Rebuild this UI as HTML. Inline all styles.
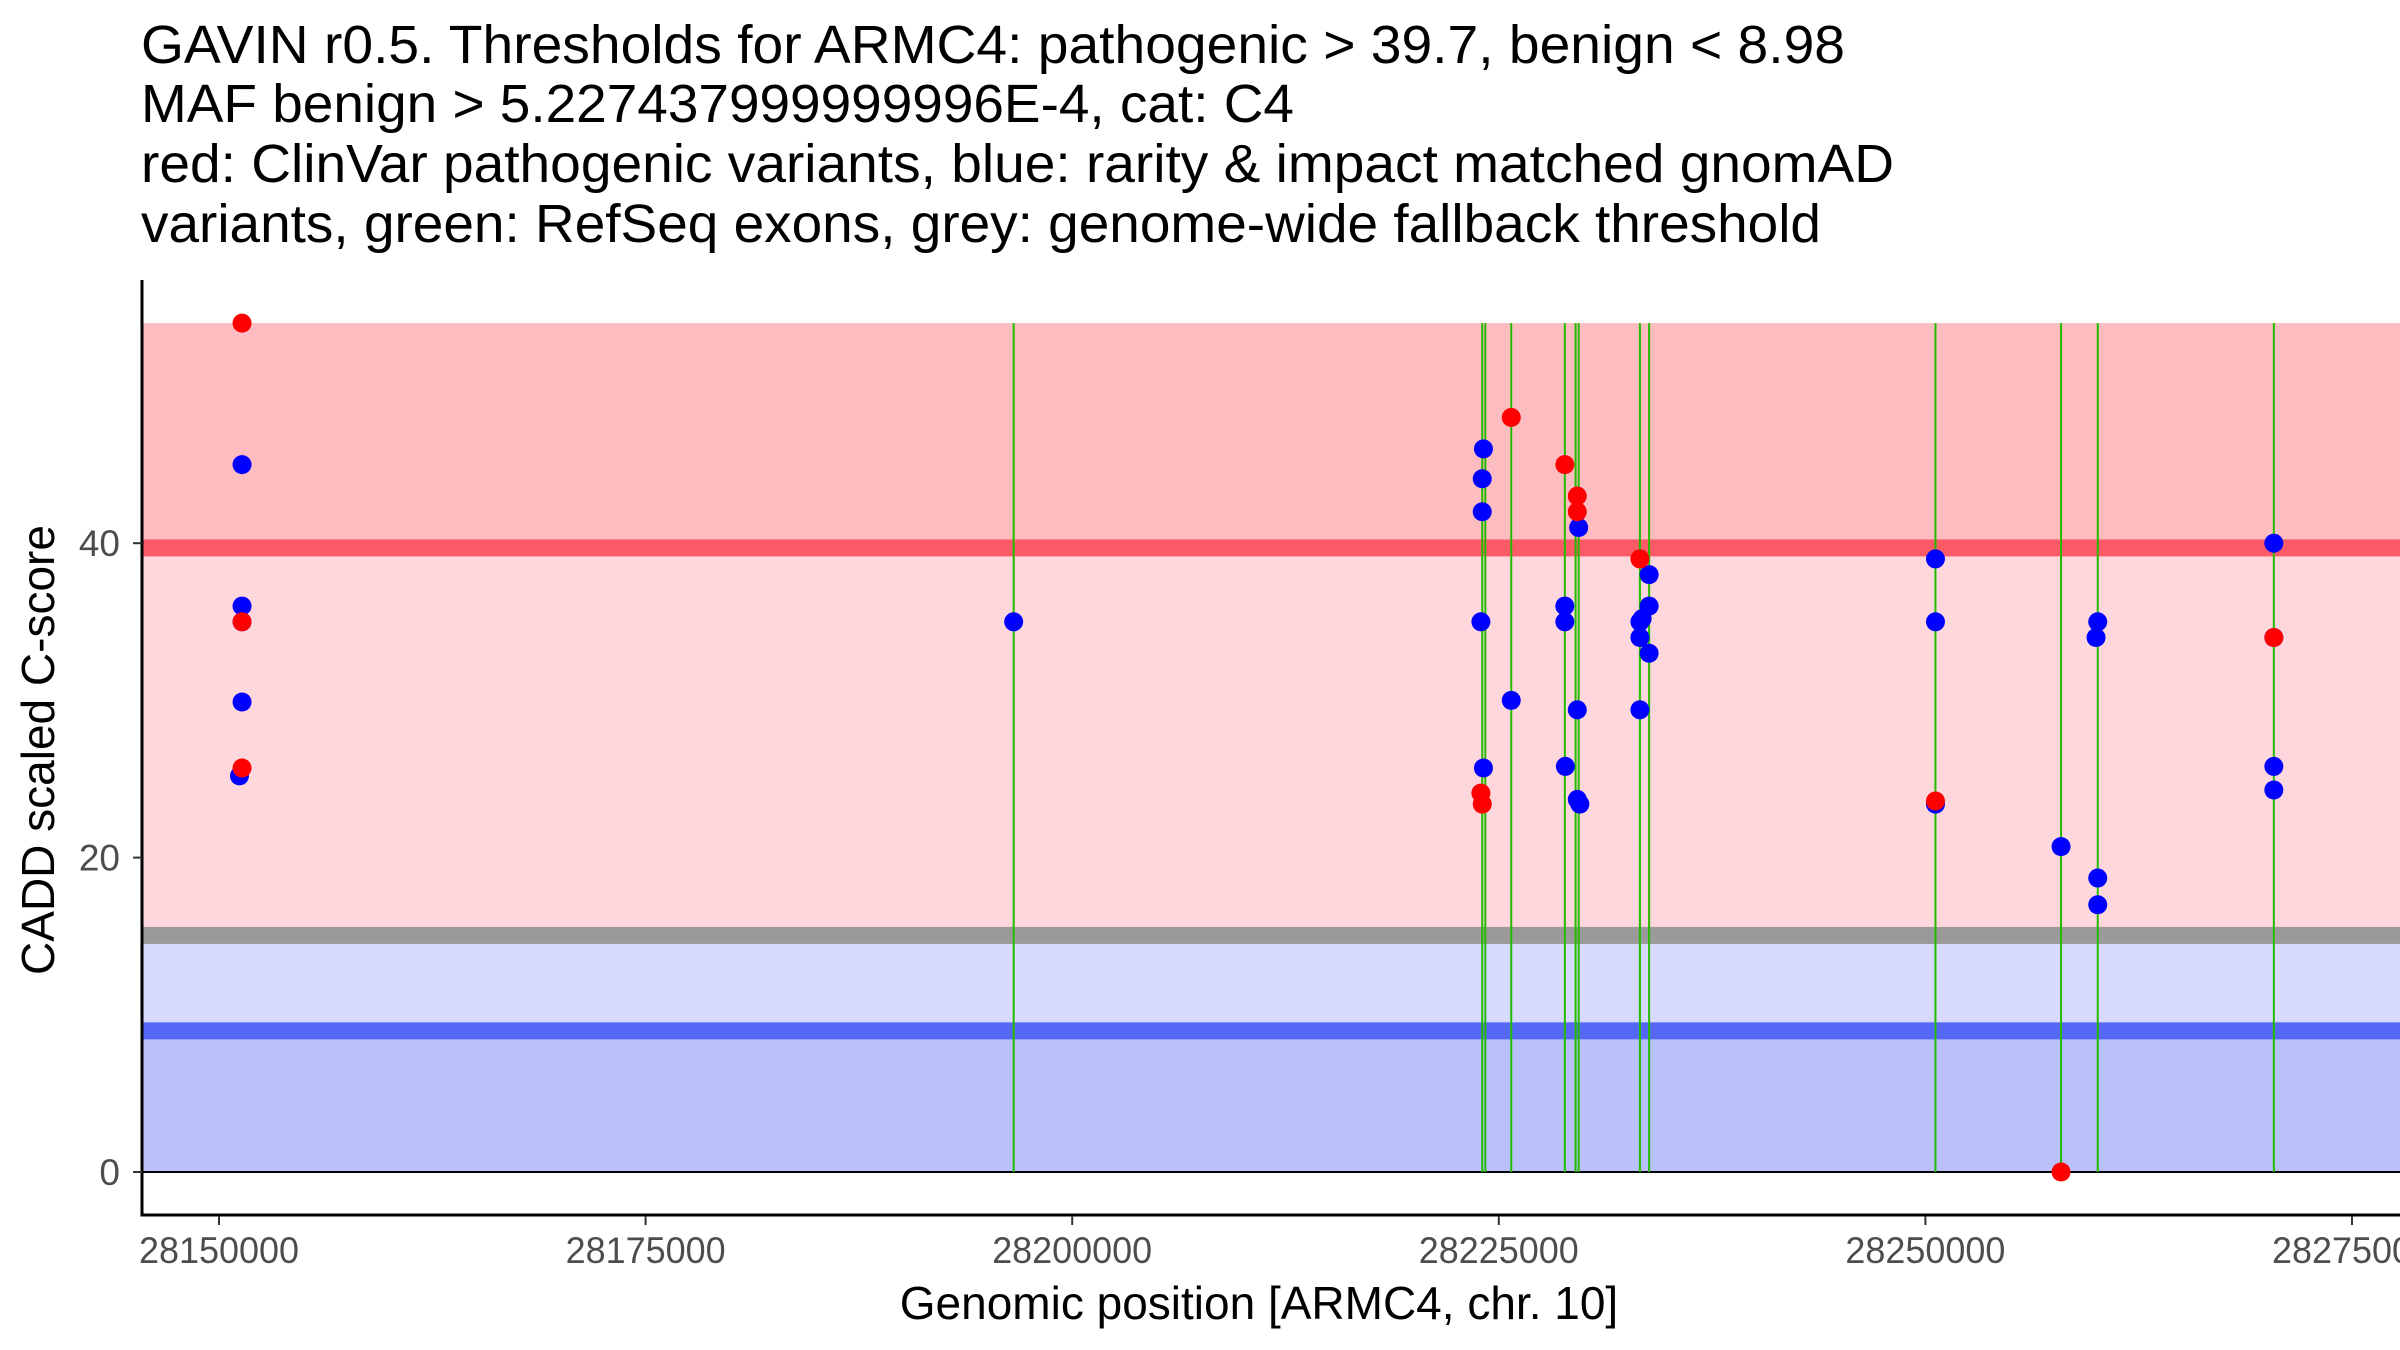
<!DOCTYPE html>
<html><head><meta charset="utf-8"><style>
html,body{margin:0;padding:0;background:#fff;}
svg{display:block;font-family:"Liberation Sans",Arial,sans-serif;}
</style></head><body>
<svg id="chart" width="2400" height="1350" viewBox="0 0 2400 1350" xmlns="http://www.w3.org/2000/svg">
<g font-size="54" fill="#000">
<text x="141" y="63" textLength="1704" lengthAdjust="spacingAndGlyphs">GAVIN r0.5. Thresholds for ARMC4: pathogenic &gt; 39.7, benign &lt; 8.98</text>
<text x="141" y="122" textLength="1153" lengthAdjust="spacingAndGlyphs">MAF benign &gt; 5.227437999999996E-4, cat: C4</text>
<text x="141" y="182" textLength="1753" lengthAdjust="spacingAndGlyphs">red: ClinVar pathogenic variants, blue: rarity &amp; impact matched gnomAD</text>
<text x="141" y="242" textLength="1680" lengthAdjust="spacingAndGlyphs">variants, green: RefSeq exons, grey: genome-wide fallback threshold</text>
</g>
<g id="bands"></g>
<g id="exons"></g>
<g id="points"></g>
<g id="axes"></g>
<text transform="translate(54,750) rotate(-90)" text-anchor="middle" font-size="46" fill="#000">CADD scaled C-score</text>
<text x="1259" y="1319" text-anchor="middle" font-size="46" fill="#000">Genomic position [ARMC4, chr. 10]</text>
</svg>
<script>
const xTicks = [28150000, 28175000, 28200000, 28225000, 28250000, 28275000];
const yTicks = [0, 20, 40];
const pathogenicThreshold = 39.7;
const benignThreshold = 8.98;
const fallbackThreshold = 15.05;
const bandTop = 54;
const exonPositions = [28196570, 28224030, 28224210, 28225730, 28228870, 28229500, 28229680, 28233270, 28233810, 28250590, 28257950, 28260100, 28270420];
const blueX = [28151350,28151350,28151350,28151350,28151200,28196570,28224030,28224100,28224030,28223950,28224100,28225730,28228870,28228870,28228900,28229680,28229600,28229600,28229750,28233270,28233270,28233270,28233400,28233810,28233810,28233810,28250590,28250590,28250590,28257950,28260100,28260000,28260100,28260100,28270420,28270420,28270420,28270420];
const blueY = [45,36,35,29.9,25.2,35,44.1,46,42,35,25.7,30,36,35,25.8,41,29.4,23.7,23.4,35,34,29.4,35.2,38,36,33,39,35,23.4,20.7,35,34,18.7,17,40,34,25.8,24.3];
const redX = [28151350,28151350,28151350,28223950,28224030,28225730,28228870,28229600,28229600,28233270,28250590,28257950,28270420];
const redY = [54,35,25.7,24.1,23.4,48,45,43,42,39,23.6,0,34];

const NS='http://www.w3.org/2000/svg';
const X0=219, PX=426.6/25000, Y0=1172, PY=15.72;
function xs(v){return X0+(v-28150000)*PX;}
function ys(v){return Y0-v*PY;}
function mk(tag,attrs,parent){const e=document.createElementNS(NS,tag);for(const k in attrs)e.setAttribute(k,attrs[k]);parent.appendChild(e);return e;}
const L=142,R=2400;
const bands=document.getElementById('bands');
let r;
r=mk('rect',{x:L,y:ys(bandTop),width:R-L,height:ys(pathogenicThreshold)-ys(bandTop),fill:'#fdbcc0'},bands);


r=mk('rect',{x:L,y:ys(pathogenicThreshold),width:R-L,height:ys(fallbackThreshold)-ys(pathogenicThreshold),fill:'#fdd7db'},bands);


r=mk('rect',{x:L,y:ys(fallbackThreshold),width:R-L,height:ys(benignThreshold)-ys(fallbackThreshold),fill:'#d8dafd'},bands);


r=mk('rect',{x:L,y:ys(benignThreshold),width:R-L,height:ys(0)-ys(benignThreshold),fill:'#bac0fa'},bands);


const th=[[pathogenicThreshold,'#fd5a68','pathogenic-threshold-line'],[fallbackThreshold,'#9a9a9a','fallback-threshold-line'],[benignThreshold,'#5468f5','benign-threshold-line']];
th.forEach(t=>{const l=mk('rect',{x:L,y:ys(t[0])-8.5,width:R-L,height:17,fill:t[1]},bands);

});
const z=mk('line',{x1:L,x2:R,y1:ys(0),y2:ys(0),stroke:'#000','stroke-width':2},bands);


const ex=document.getElementById('exons');
exonPositions.forEach(p=>{const l=mk('line',{x1:xs(p),x2:xs(p),y1:ys(bandTop),y2:ys(0),stroke:'#22bb00','stroke-width':2},ex);

});
const pts=document.getElementById('points');
blueX.forEach((p,i)=>{const c=mk('circle',{cx:xs(p),cy:ys(blueY[i]),r:9.5,fill:'#0000ff'},pts);

});
redX.forEach((p,i)=>{const c=mk('circle',{cx:xs(p),cy:ys(redY[i]),r:9.5,fill:'#ff0000'},pts);

});
const ax=document.getElementById('axes');
let a=mk('line',{x1:L,x2:L,y1:280,y2:1216,stroke:'#000','stroke-width':3},ax);


a=mk('line',{x1:L-1.5,x2:R,y1:1215,y2:1215,stroke:'#000','stroke-width':3},ax);


yTicks.forEach(v=>{mk('line',{x1:L-9,x2:L,y1:ys(v),y2:ys(v),stroke:'#333','stroke-width':2},ax);
const t=mk('text',{x:L-22,y:ys(v)+13,'text-anchor':'end','font-size':37,fill:'#4d4d4d'},ax);t.textContent=v;

});
xTicks.forEach(v=>{mk('line',{x1:xs(v),x2:xs(v),y1:1216,y2:1225,stroke:'#333','stroke-width':2},ax);
const t=mk('text',{x:xs(v),y:1263,'text-anchor':'middle','font-size':37,fill:'#4d4d4d',textLength:160,lengthAdjust:'spacingAndGlyphs'},ax);t.textContent=v;

});
</script>
</body></html>
